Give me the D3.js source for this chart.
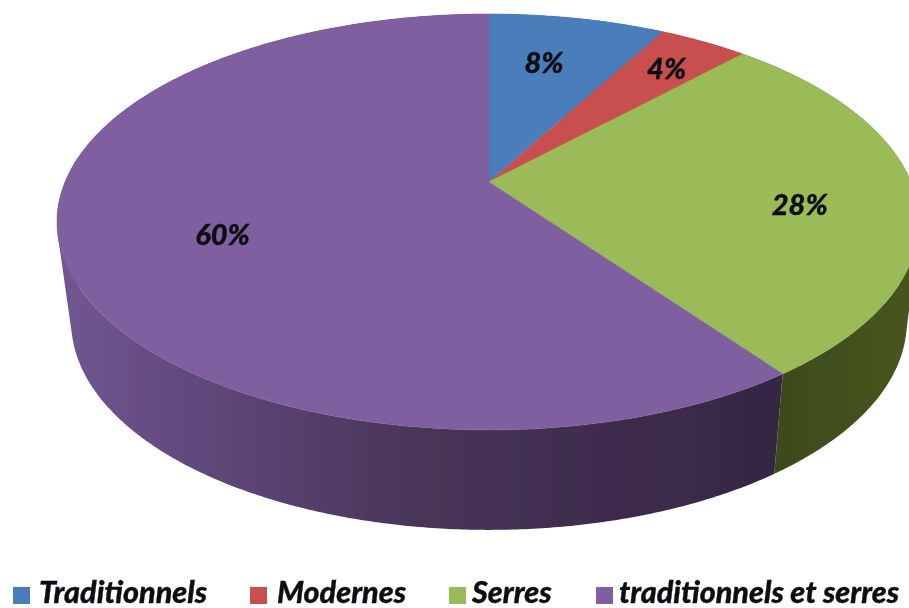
<!DOCTYPE html>
<html><head><meta charset="utf-8">
<script src="https://cdn.jsdelivr.net/npm/d3@7"></script>
<style>
html,body{margin:0;padding:0;background:#fff;overflow:hidden}
svg{display:block}
text{font-family:Lato,"Open Sans",sans-serif;font-style:italic;font-weight:900;fill:#0c0c14;stroke:#0c0c14;stroke-width:0.3}
</style></head><body>
<div id="chart"></div>
<script>
const categories = ["Traditionnels","Modernes","Serres","traditionnels et serres"];
const values = [8,4,28,60];
const topColors = ["#4a7ebb","#c8504e","#9bbb59","#7f5f9f"];
const wallStops = [
  ["#2c4a70","#2c4a70"],
  ["#6e2c2a","#6e2c2a"],
  ["#3d4a1e","#46551f"],
  ["#705590","#5b4474","#493558","#3f2c4e","#352743"]
];
const labelNudge = [[-14,9],[11,-4],[-8,13],[50,4]];
const legendMarkerX = [13,250,449,596];
const legendTextX = [39,277,472,619];

const W=909,H=608,apex={x:489,y:182},k=0.192,ya=200.3,depth=100;
const sxTop=d3.scaleLinear().domain([-1,0,1]).range([-424,0,422]);
const sxBase=d3.scaleLinear().domain([-1,0,1]).range([-410,0,410]);
const project=(ang,r=1,base=false)=>{
  const u=Math.sin(ang)*r,v=-Math.cos(ang)*r,w=1-k*v;
  return [apex.x+(base?sxBase:sxTop)(u)/w,apex.y+ya*v/w+(base?depth:0)];
};
const pie=d3.pie().sort(null).startAngle(0).endAngle(2*Math.PI)(values);
const svg=d3.select("#chart").append("svg").attr("width",W).attr("height",H).attr("viewBox",`0 0 ${W} ${H}`);
const defs=svg.append("defs");
defs.append("filter").attr("id","soft").append("feGaussianBlur").attr("stdDeviation",0.7);
wallStops.forEach((stops,i)=>{
  const lg=defs.append("linearGradient").attr("id","wall"+i).attr("gradientUnits","userSpaceOnUse")
    .attr("x1",i===2?770:70).attr("x2",i===2?909:775).attr("y1",0).attr("y2",0);
  stops.forEach((c,j)=>lg.append("stop").attr("offset",j/(stops.length-1)).attr("stop-color",c));
});
const line=d3.line();
const arcPts=(a,b,r,base)=>{
  const n=Math.max(2,Math.ceil((b-a)*120));
  return d3.range(n+1).map(i=>project(a+(b-a)*i/n,r,base));
};
const wallPath=d=>{
  const up=arcPts(d.startAngle,d.endAngle,1,false),lo=arcPts(d.startAngle,d.endAngle,1,true);
  return d3.range(up.length-1).map(i=>{
    const q=[up[i],up[i+1],lo[i+1],lo[i]];
    return line(d3.polygonArea(q)<0?q.reverse():q)+"Z";
  }).join("");
};
const g=svg.append("g").attr("filter","url(#soft)");
g.selectAll("path.wall").data(pie).join("path").attr("class","wall")
  .attr("fill",(d,i)=>`url(#wall${i})`)
  .attr("d",wallPath);
g.selectAll("path.top").data(pie).join("path").attr("class","top")
  .attr("fill",(d,i)=>topColors[i]).attr("stroke",(d,i)=>topColors[i]).attr("stroke-width",0.5)
  .attr("d",d=>line([[apex.x,apex.y],...arcPts(d.startAngle,d.endAngle,1,false)])+"Z");
const t=svg.append("g").attr("filter","url(#soft)");
t.selectAll("text.pct").data(pie).join("text").attr("class","pct")
  .attr("text-anchor","middle").attr("font-size",29)
  .attr("x",(d,i)=>project((d.startAngle+d.endAngle)/2,0.75)[0]+labelNudge[i][0])
  .attr("y",(d,i)=>project((d.startAngle+d.endAngle)/2,0.75)[1]+labelNudge[i][1]+10)
  .text(d=>d.data+"%");
t.selectAll("rect.key").data(categories).join("rect").attr("class","key")
  .attr("x",(d,i)=>legendMarkerX[i]).attr("y",587).attr("width",17).attr("height",17)
  .attr("fill",(d,i)=>topColors[i]).style("stroke","none");
t.selectAll("text.lab").data(categories).join("text").attr("class","lab")
  .attr("x",(d,i)=>legendTextX[i]).attr("y",603).attr("font-size",30.5).text(d=>d);
</script></body></html>
